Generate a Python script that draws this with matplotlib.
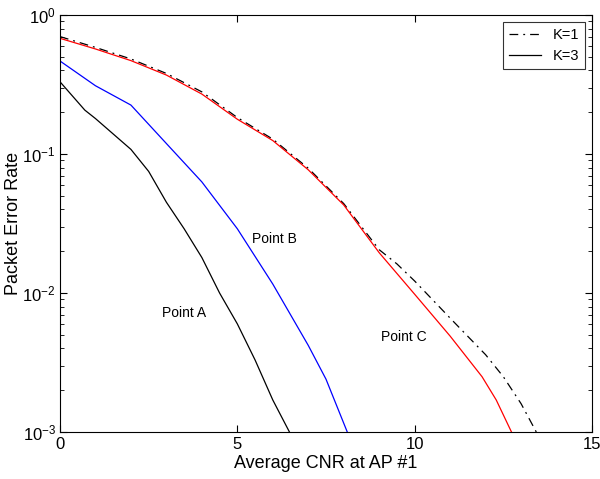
import matplotlib
matplotlib.use("Agg")
import matplotlib.pyplot as plt
from matplotlib.ticker import LogLocator, NullFormatter, FixedLocator
import numpy as np

plt.rcParams["font.family"] = ["Liberation Sans", "DejaVu Sans"]
plt.rcParams["mathtext.default"] = "regular"

# K=1 (dash-dot, black)
k1_x = [0, 1, 2, 3, 4, 5, 6, 7, 8, 9, 9.5, 10, 11, 12, 12.5, 13, 13.43]
k1_y = [0.70, 0.585, 0.483, 0.38, 0.28, 0.183, 0.128, 0.079, 0.044, 0.0205, 0.0162,
        0.0122, 0.0066, 0.0036, 0.0025, 0.0016, 0.001]

# Point C (red)
c_x = [0, 1, 2, 3, 4, 5, 6, 7, 8, 9, 10, 11, 11.9, 12.3, 12.73]
c_y = [0.68, 0.57, 0.47, 0.37, 0.27, 0.178, 0.125, 0.077, 0.043, 0.0195,
       0.0098, 0.0049, 0.0025, 0.0017, 0.001]

# Point B (blue)
b_x = [0, 1, 2, 3, 4, 5, 6, 7, 7.5, 8.1]
b_y = [0.467, 0.31, 0.225, 0.119, 0.063, 0.029, 0.0116, 0.0042, 0.0024, 0.001]

# Point A (black solid)
a_x = [0, 0.7, 1, 2, 2.5, 3, 3.5, 4, 4.5, 5, 5.5, 6, 6.47]
a_y = [0.331, 0.207, 0.18, 0.108, 0.075, 0.045, 0.029, 0.018, 0.010, 0.0060,
       0.0033, 0.0017, 0.001]

fig = plt.figure(figsize=(6, 4.79), dpi=100)
ax = fig.add_axes([0.1, 0.098, 0.8867, 0.8706])

ax.plot(k1_x, k1_y, color="k", lw=0.9, linestyle=(0, (7, 4, 1.5, 4)), label="K=1")
ax.plot(a_x, a_y, color="k", lw=0.9, label="K=3")
ax.plot(b_x, b_y, color="#0000ff", lw=0.9)
ax.plot(c_x, c_y, color="#ff0000", lw=0.9)

ax.set_yscale("log")
ax.set_xlim(0, 15)
ax.set_ylim(1e-3, 1)
ax.xaxis.set_major_locator(FixedLocator([0, 5, 10, 15]))
ax.yaxis.set_major_locator(LogLocator(base=10, numticks=10))
ax.yaxis.set_minor_locator(LogLocator(base=10, subs=np.arange(2, 10), numticks=10))
ax.yaxis.set_minor_formatter(NullFormatter())
ax.tick_params(which="both", direction="in", top=True, right=True, labelsize=12)
ax.tick_params(axis="y", pad=3)
ax.tick_params(which="major", length=5)
ax.tick_params(which="minor", length=3)

ax.set_xlabel("Average CNR at AP #1", fontsize=13, labelpad=2)
ax.set_ylabel("Packet Error Rate", fontsize=13, labelpad=0)

ax.text(2.88, 0.0072, "Point A", fontsize=10, va="center")
ax.text(5.4, 0.0243, "Point B", fontsize=10, va="center")
ax.text(9.05, 0.0048, "Point C", fontsize=10, va="center")

leg = ax.legend(loc="upper right", fontsize=10.5, frameon=True, fancybox=False,
                edgecolor="k", handlelength=2.2, borderaxespad=0.5)
leg.get_frame().set_linewidth(0.8)

fig.savefig("out.png", dpi=100)
